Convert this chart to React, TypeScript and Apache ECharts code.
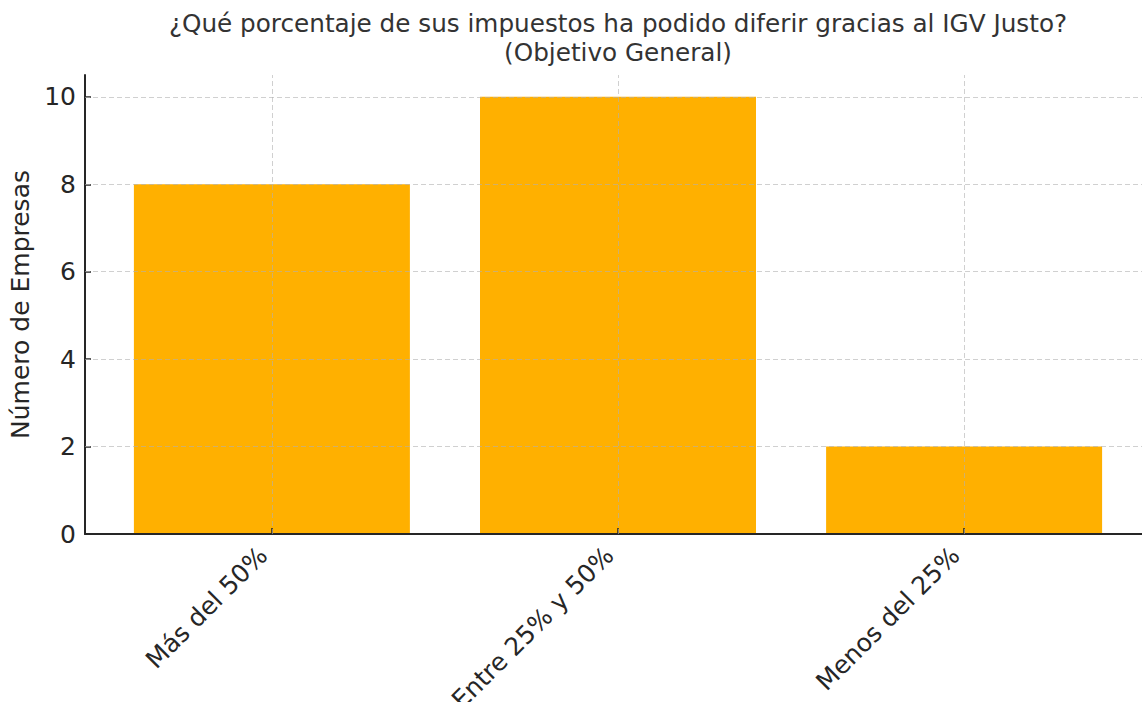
import React, { useEffect, useRef } from "react";
import * as echarts from "echarts";

const categories = ["Más del 50%", "Entre 25% y 50%", "Menos del 25%"];
const values = [8, 10, 2];
const yTicks = [0, 2, 4, 6, 8, 10];
const xTicks = [0, 1, 2];
const titleLines = ["¿Qué porcentaje de sus impuestos ha podido diferir gracias al IGV Justo?", "(Objetivo General)"];
const yName = "Número de Empresas";

const FONT = "DejaVu Sans";

export default function App() {
  const ref = useRef<HTMLDivElement>(null);
  useEffect(() => {
    document.body.style.margin = "0";
    const chart = echarts.init(ref.current!, null, { renderer: "svg" });
    const gridColor = "rgba(176,176,176,0.6)";
    const gridLine = { color: gridColor, type: [5, 3], width: 1 };
    chart.setOption({
      animation: false,
      backgroundColor: "#ffffff",
      title: {
        text: titleLines.join("\n"),
        left: 618,
        top: 9,
        textAlign: "center",
        padding: 0,
        textStyle: {
          fontFamily: FONT,
          fontSize: 24.7,
          fontWeight: "normal",
          color: "#333333",
          lineHeight: 29,
        },
      },
      grid: {
        left: 85,
        width: 1066,
        top: 75,
        height: 459,
        containLabel: false,
        outerBoundsMode: "none",
      },
      xAxis: {
        type: "value",
        min: -0.54,
        max: 2.54,
        minInterval: 1,
        maxInterval: 1,
        z: 3,
        axisLine: { show: true, onZero: false, lineStyle: { color: "#262626", width: 2 } },
        axisTick: {
          show: true,
          inside: true,
          length: 6,
          customValues: xTicks,
          lineStyle: { color: "#262626", width: 1.5 },
        },
        axisLabel: {
          customValues: xTicks,
          formatter: (v: number) => categories[Math.round(v)] ?? "",
          rotate: 45,
          margin: 26,
          verticalAlign: "bottom",
          fontFamily: FONT,
          fontSize: 25,
          color: "#262626",
        },
        splitLine: { show: false },
      },
      yAxis: {
        type: "value",
        min: 0,
        max: 10.5,
        interval: 2,
        z: 3,
        name: yName,
        nameLocation: "middle",
        nameGap: 52,
        nameTextStyle: { fontFamily: FONT, fontSize: 25, color: "#262626" },
        axisLine: { show: true, onZero: false, lineStyle: { color: "#262626", width: 2 } },
        axisTick: {
          show: true,
          inside: true,
          length: 6,
          customValues: yTicks,
          lineStyle: { color: "#262626", width: 1.5 },
        },
        axisLabel: {
          customValues: yTicks,
          margin: 9,
          fontFamily: FONT,
          fontSize: 25,
          color: "#262626",
        },
        splitLine: { show: false },
      },
      series: [
        {
          type: "bar",
          data: values.map((v, i) => [i, v]),
          barWidth: 276,
          itemStyle: { color: "#FFB000" },
          z: 2,
          markLine: {
            silent: true,
            symbol: "none",
            animation: false,
            label: { show: false },
            lineStyle: gridLine,
            emphasis: { disabled: true },
            data: [
              ...yTicks.filter((t) => t > 0).map((t) => ({ yAxis: t })),
              ...xTicks.map((t) => ({ xAxis: t })),
            ],
          },
        },
      ],
    });
    return () => chart.dispose();
  }, []);
  return <div ref={ref} style={{ width: 1142, height: 702 }} />;
}
